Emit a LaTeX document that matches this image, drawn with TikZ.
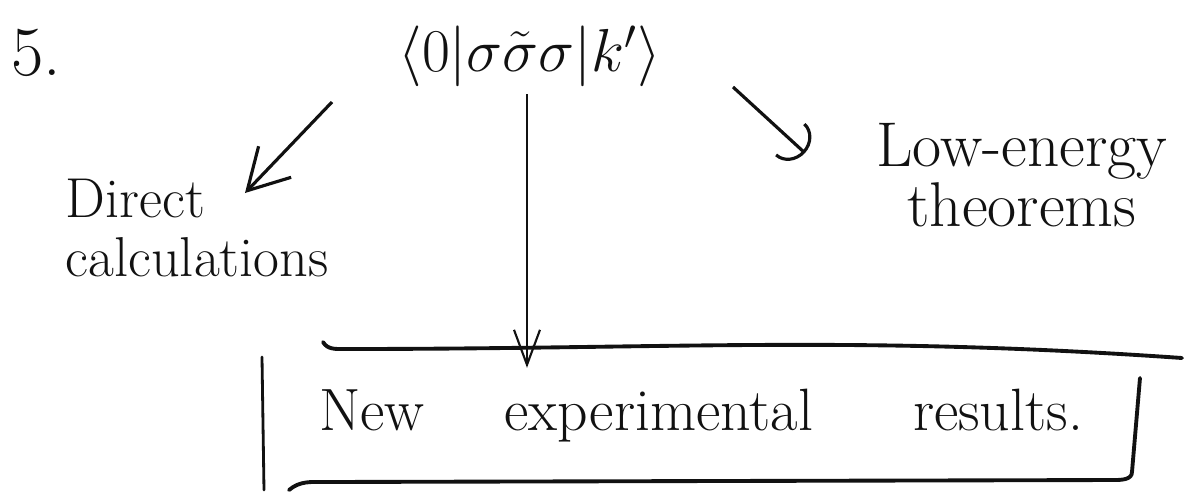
\documentclass[tikz,border=0pt]{standalone}
\usepackage{tikz}
\usetikzlibrary{arrows.meta, positioning, calc}
\definecolor{inkBlack}{HTML}{111111}
\tikzset{
  arrowL/.style={-{Straight Barb[length=4mm, width=4.5mm]}, inkBlack, line width=0.9pt},
  arrowM/.style={-{Straight Barb[length=3.5mm, width=2.6mm]}, inkBlack, line width=0.6pt},
  arrowRt/.style={-{Arc Barb[length=2mm, width=4.5mm]}, inkBlack, line width=0.9pt},
  inkLine/.style={inkBlack, line width=1.1pt, line cap=round},
  labelA/.style={text=inkBlack, inner sep=0pt, font=\fontsize{16}{17}\selectfont},
}
\begin{document}
\begin{tikzpicture}
  \useasboundingbox (0,0) rectangle (11.85,4.98);
  \node[labelA, font=\fontsize{20}{22}\selectfont] (num) at (0.36,4.45) {5.};
  \node[labelA, font=\fontsize{18}{22}\selectfont] (mx) at (5.30,4.42)
    {$\langle 0|\sigma\tilde{\sigma}\sigma|k'\rangle$};
  \node[labelA, anchor=north west, align=left] (direct) at (0.65,3.20) {Direct\\calculations};
  \node[labelA, anchor=north, align=center, font=\fontsize{18}{17}\selectfont] (lowe)
    at (10.22,3.75) {Low-energy\\theorems};
  \node[labelA, anchor=base, inner ysep=0.2cm, font=\fontsize{17}{19}\selectfont] (newres)
    at (7.01,0.68) {New\hspace{0.8cm}experimental\hspace{1.0cm}results.};
  % arrows out of the matrix element
  \coordinate (l0) at (3.32,3.96);
  \coordinate (l1) at (2.45,3.05);
  \coordinate (m0) at (5.27,4.04);
  \coordinate (r0) at (7.33,4.11);
  \coordinate (r1) at (8.05,3.45);
  \draw[arrowL] (l0) -- (l1);
  \draw[arrowM] (m0) -- (m0 |- newres.north);
  \draw[arrowRt] (r0) -- (r1);
  % box round the result
  \draw[inkLine] (3.23,1.56) to[out=-60,in=180] (3.45,1.49) to[out=0,in=176] (11.82,1.40);
  \draw[inkLine, line width=0.8pt] (2.62,1.41) -- (2.64,0.08);
  \draw[inkLine] (2.89,0.08) to[out=40,in=180] (3.25,0.16) -- (11.15,0.18)
    to[out=0,in=-90] (11.32,0.26) -- (11.40,1.20);
\end{tikzpicture}
\end{document}
